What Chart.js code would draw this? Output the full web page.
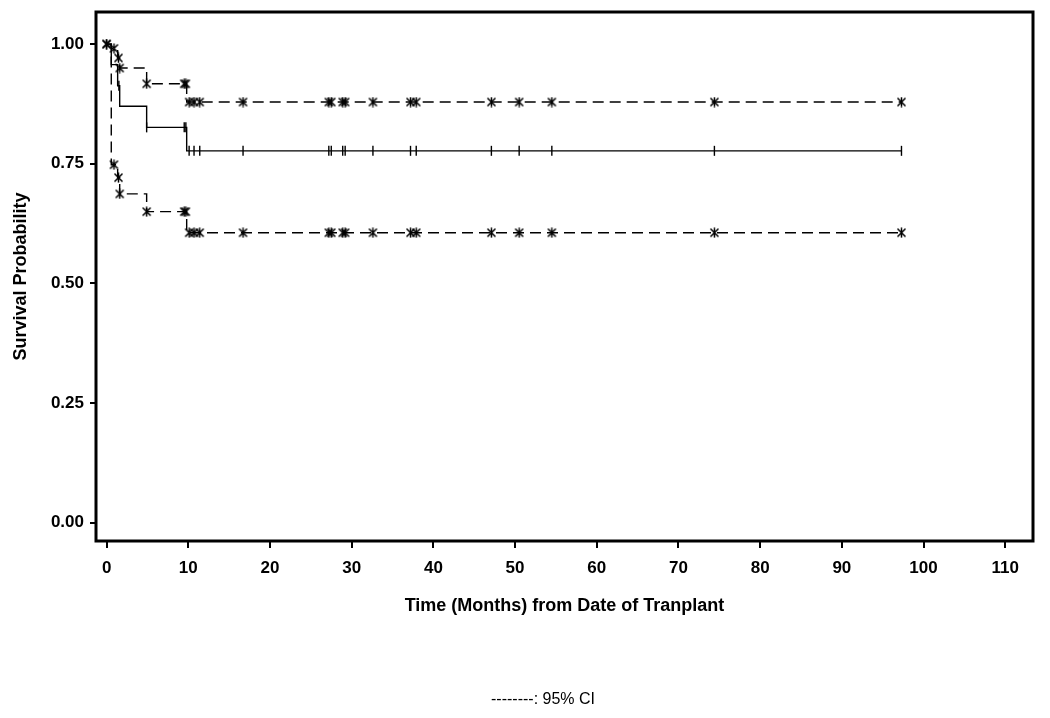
<!DOCTYPE html>
<html lang="en">
<head>
    <meta charset="UTF-8">
    <title>Survival Probability</title>
    <script src="https://cdn.jsdelivr.net/npm/chart.js"></script>
    <style>
        html, body { margin: 0; padding: 0; background: #fff; }
        #wrap { width: 1050px; height: 718px; position: relative; }
    </style>
</head>
<body>
<div id="wrap"><canvas id="km"></canvas></div>
<script>
    // step times (months) and the curve values right after each step
    const eventTimes = [0, 0.57, 1.35, 1.6, 4.9, 9.8];
    const survival   = [1.0, 0.957, 0.913, 0.870, 0.826, 0.777];
    const upperCI    = [1.0, 0.991, 0.971, 0.950, 0.917, 0.879];
    const lowerCI    = [1.0, 0.748, 0.721, 0.687, 0.650, 0.606];
    const lastTime = 97.3;

    // censored times: "+" on the survival curve, "*" on the CI curves
    const survCensor = [1.5, 4.9, 9.5, 9.7, 10.1, 10.7, 11.4, 16.7, 27.2, 27.5, 28.9, 29.2,
                        32.6, 37.2, 37.9, 47.1, 50.5, 54.5, 74.4, 97.3];
    const ciMarks = [0, 0.9, 1.45, 1.6, 4.9, 9.5, 9.7, 10.1, 10.7, 11.4, 16.7, 27.2, 27.5,
                     28.9, 29.2, 32.6, 37.2, 37.9, 47.1, 50.5, 54.5, 74.4, 97.3];

    const xTicks = [0, 10, 20, 30, 40, 50, 60, 70, 80, 90, 100, 110];
    const yTicks = [0, 0.25, 0.5, 0.75, 1.0];

    const FONT = "'Liberation Sans', Arial, sans-serif";
    const footnote = '--------: 95% CI';

    function steps(vals) {
        const pts = eventTimes.map((t, i) => ({ x: t, y: vals[i] }));
        pts.push({ x: lastTime, y: vals[vals.length - 1] });
        return pts;
    }

    function valueAt(vals, t) {
        let v = vals[0];
        eventTimes.forEach((et, i) => { if (et <= t) v = vals[i]; });
        return v;
    }

    function marks(vals, times) {
        return times.map(t => ({ x: t, y: valueAt(vals, t) }));
    }

    // asterisk marker: an X with a vertical stroke
    const star = document.createElement('canvas');
    star.width = 11; star.height = 11;
    (function () {
        const c = star.getContext('2d');
        c.strokeStyle = '#000';
        c.lineWidth = 1.5;
        c.beginPath();
        c.moveTo(1.5, 1.5); c.lineTo(9.5, 9.5);
        c.moveTo(9.5, 1.5); c.lineTo(1.5, 9.5);
        c.moveTo(5.5, 0.5); c.lineTo(5.5, 10.5);
        c.stroke();
    })();

    const lineDs = (data, dash) => ({
        data: data,
        showLine: true,
        stepped: 'before',
        borderColor: '#000',
        borderWidth: 1.4,
        borderDash: dash,
        pointRadius: 0,
        fill: false
    });

    const frame = {
        id: 'frame',
        afterDraw(chart) {
            const { ctx, chartArea: a } = chart;
            ctx.save();
            ctx.strokeStyle = '#000';
            ctx.lineWidth = 3;
            ctx.strokeRect(a.left, a.top, a.right - a.left, a.bottom - a.top);
            // footnote under the plot
            ctx.fillStyle = '#000';
            ctx.font = '16px ' + FONT;
            ctx.textAlign = 'center';
            ctx.textBaseline = 'middle';
            ctx.fillText(footnote, 543, 700);
            ctx.restore();
        }
    };

    new Chart(document.getElementById('km'), {
        type: 'scatter',
        data: {
            datasets: [
                lineDs(steps(upperCI), [11, 6]),
                lineDs(steps(lowerCI), [11, 6]),
                lineDs(steps(survival), []),
                {
                    data: marks(survival, survCensor),
                    pointStyle: 'line',
                    rotation: 90,
                    radius: 5,
                    borderColor: '#000',
                    borderWidth: 1.4
                },
                {
                    data: marks(upperCI, ciMarks),
                    pointStyle: star,
                    borderColor: '#000'
                },
                {
                    data: marks(lowerCI, ciMarks),
                    pointStyle: star,
                    borderColor: '#000'
                }
            ]
        },
        options: {
            responsive: true,
            maintainAspectRatio: false,
            animation: false,
            layout: { padding: { top: 12, right: 17, left: 0, bottom: 0 } },
            plugins: {
                legend: { display: false },
                tooltip: { enabled: false }
            },
            scales: {
                x: {
                    type: 'linear',
                    min: -1.3,
                    max: 113.4,
                    afterBuildTicks: s => { s.ticks = xTicks.map(v => ({ value: v })); },
                    afterFit: s => { s.height = 177; },
                    grid: { drawOnChartArea: false, drawTicks: true, tickLength: 7, color: '#000', lineWidth: 2 },
                    border: { display: false },
                    ticks: {
                        color: '#000',
                        padding: 10,
                        maxRotation: 0,
                        font: { family: FONT, size: 17, weight: 'bold' }
                    },
                    title: {
                        display: true,
                        text: 'Time (Months) from Date of Tranplant',
                        color: '#000',
                        font: { family: FONT, size: 18, weight: 'bold' },
                        padding: { top: 0, bottom: 101 }
                    }
                },
                y: {
                    type: 'linear',
                    min: -0.038,
                    max: 1.067,
                    afterBuildTicks: s => { s.ticks = yTicks.map(v => ({ value: v })); },
                    afterFit: s => { s.width = 96; s.paddingTop = 0; s.paddingBottom = 0; },
                    grid: { drawOnChartArea: false, drawTicks: true, tickLength: 6, color: '#000', lineWidth: 2 },
                    border: { display: false },
                    ticks: {
                        color: '#000',
                        padding: 6,
                        font: { family: FONT, size: 17, weight: 'bold' },
                        callback: v => v.toFixed(2)
                    },
                    title: {
                        display: true,
                        text: 'Survival Probability',
                        color: '#000',
                        font: { family: FONT, size: 18, weight: 'bold' },
                        padding: { top: 10, bottom: 0 }
                    }
                }
            }
        },
        plugins: [frame]
    });
</script>
</body>
</html>
